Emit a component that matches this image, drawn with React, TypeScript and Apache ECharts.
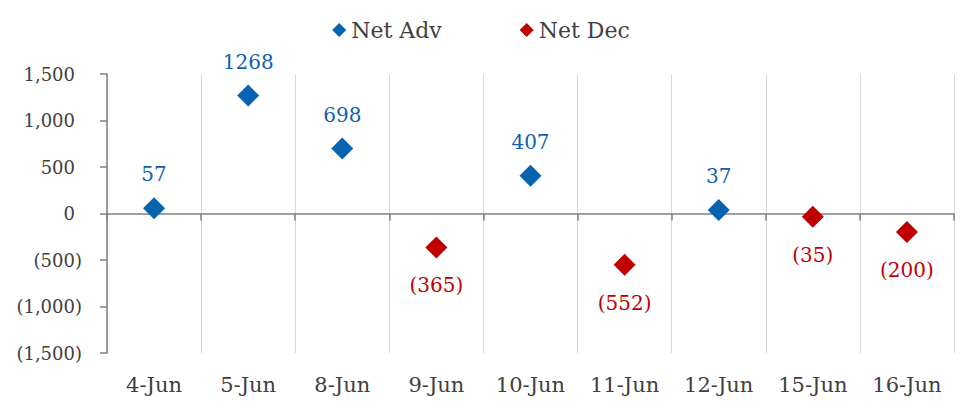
import React, { useEffect, useRef } from "react";
import * as echarts from "echarts";

const categories = ["4-Jun", "5-Jun", "8-Jun", "9-Jun", "10-Jun", "11-Jun", "12-Jun", "15-Jun", "16-Jun"];
const netAdv: (number | null)[] = [57, 1268, 698, null, 407, null, 37, null, null];
const netDec: (number | null)[] = [null, null, null, -365, null, -552, null, -35, -200];
const yMin = -1500;
const yMax = 1500;
const yInterval = 500;

const FONT = "'DejaVu Serif', serif";
const TEXT = "#404040";
const BLUE = "#0563B0";
const RED = "#C00000";

function fmt(v: number): string {
  const s = Math.abs(v).toLocaleString("en-US");
  return v < 0 ? `{n|(${s})}` : `{n|${s}}{p|)}`;
}

export default function App() {
  const ref = useRef<HTMLDivElement>(null);
  useEffect(() => {
    if (!ref.current) return;
    const chart = echarts.init(ref.current, undefined, { renderer: "svg" });
    chart.setOption({
      animation: false,
      backgroundColor: "#ffffff",
      legend: {
        top: 14,
        left: "center",
        itemGap: 78,
        itemWidth: 14,
        itemHeight: 14,
        textStyle: { fontFamily: FONT, fontSize: 22, color: TEXT },
        data: [
          { name: "Net Adv", icon: "diamond" },
          { name: "Net Dec", icon: "diamond" },
        ],
      },
      grid: { left: 107, right: 8, top: 74, bottom: 48, containLabel: false },
      xAxis: [
        {
          type: "category",
          data: categories,
          position: "bottom",
          axisLine: { show: false, onZero: false },
          axisTick: { show: false },
          splitLine: { show: true, lineStyle: { color: "#d9d9d9", width: 1 } },
          axisLabel: { fontFamily: FONT, fontSize: 21, color: TEXT, margin: 21 },
        },
        {
          type: "category",
          data: categories,
          position: "bottom",
          axisLine: { show: true, onZero: true, lineStyle: { color: "#808080", width: 1.5 } },
          axisTick: { show: true, length: 7, lineStyle: { color: "#808080", width: 1.5 } },
          axisLabel: { show: false },
          splitLine: { show: false },
        },
      ],
      yAxis: {
        type: "value",
        min: yMin,
        max: yMax,
        interval: yInterval,
        axisLine: { show: true, lineStyle: { color: "#808080", width: 1.5 } },
        axisTick: { show: true, length: 7, lineStyle: { color: "#808080", width: 1.5 } },
        splitLine: { show: false },
        axisLabel: {
          fontFamily: FONT,
          fontSize: 18,
          color: TEXT,
          margin: 25,
          formatter: (v: number) => fmt(v),
          rich: {
            n: { fontFamily: FONT, fontSize: 18, color: TEXT },
            p: { fontFamily: FONT, fontSize: 18, color: "rgba(0,0,0,0)" },
          },
        },
      },
      series: [
        {
          name: "Net Adv",
          type: "scatter",
          xAxisIndex: 0,
          symbol: "diamond",
          symbolSize: [22, 22],
          itemStyle: { color: BLUE, opacity: 1 },
          data: netAdv,
          label: {
            show: true,
            position: "top",
            distance: 13,
            fontFamily: FONT,
            fontSize: 20,
            color: "#0E63AD",
            opacity: 1,
            formatter: (p: any) => String(p.value),
          },
        },
        {
          name: "Net Dec",
          type: "scatter",
          xAxisIndex: 0,
          symbol: "diamond",
          symbolSize: [22, 22],
          itemStyle: { color: RED, opacity: 1 },
          data: netDec,
          label: {
            show: true,
            position: "bottom",
            distance: 17,
            fontFamily: FONT,
            fontSize: 20,
            color: RED,
            opacity: 1,
            formatter: (p: any) => `(${Math.abs(p.value)})`,
          },
        },
      ],
    });
    return () => chart.dispose();
  }, []);
  return (
    <div
      ref={ref}
      style={{ position: "absolute", left: 0, top: 0, width: 962, height: 401 }}
    />
  );
}
